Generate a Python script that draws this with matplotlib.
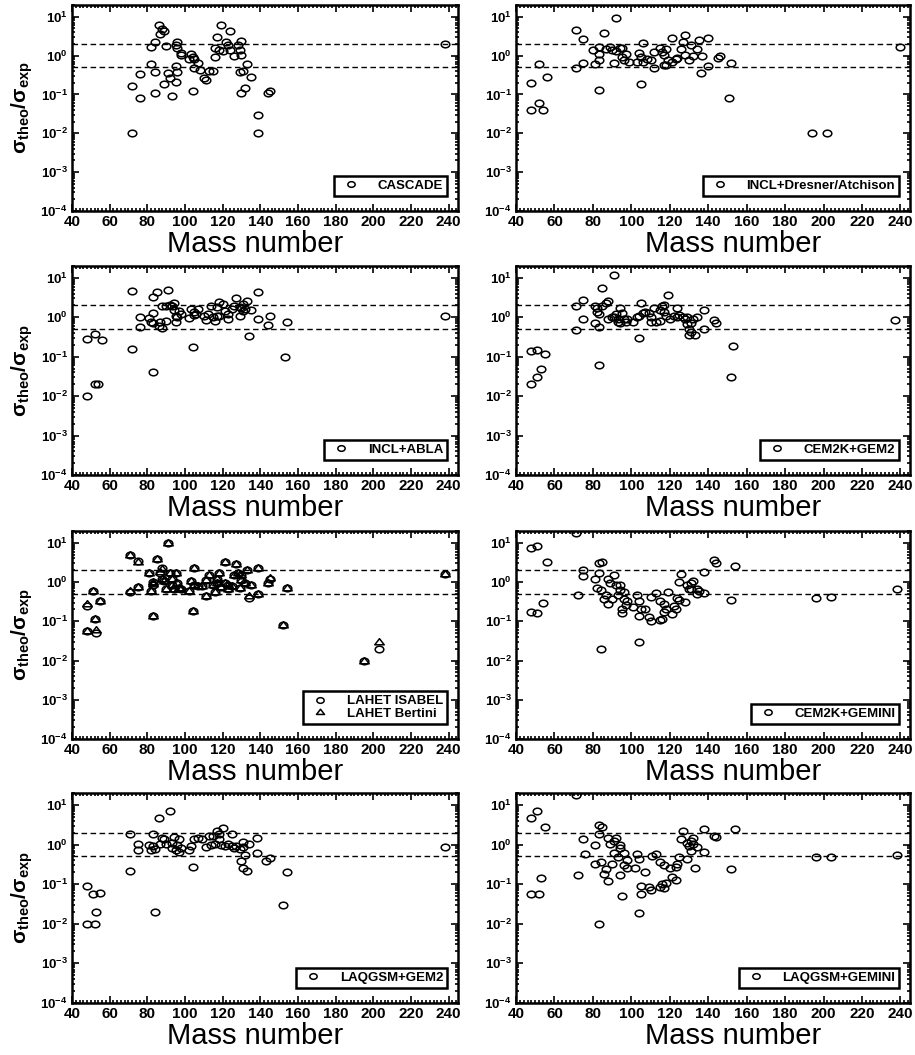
import matplotlib
matplotlib.use('Agg')
import matplotlib.pyplot as plt
from matplotlib.ticker import MultipleLocator, LogLocator, FixedLocator, NullFormatter
from matplotlib.path import Path
from matplotlib.transforms import Affine2D

plt.rcParams['font.family'] = ['Liberation Sans', 'DejaVu Sans']
plt.rcParams['mathtext.fontset'] = 'custom'
plt.rcParams['mathtext.rm'] = 'Liberation Sans'
plt.rcParams['mathtext.it'] = 'Liberation Sans:italic'
plt.rcParams['mathtext.bf'] = 'Liberation Sans:bold'

# ---- data: mass number and sigma_theo/sigma_exp per model ----
cascade_A = [72, 72, 76, 76, 82, 82, 84, 84, 84, 86, 87, 88, 89, 89, 90, 91, 92, 93, 95, 95,
             95, 96, 96, 96, 98, 98, 102, 103, 104, 104, 105, 105, 107, 108, 110, 111, 113, 115,
             116, 116, 117, 118, 119, 120, 122, 123, 124, 124, 126, 128, 129, 130, 130, 129, 130,
             131, 132, 133, 135, 139, 139, 144, 145, 238]
cascade_R = [0.16, 0.01, 0.33, 0.08, 1.7, 0.6, 2.3, 0.38, 0.11, 6.0, 3.5, 4.8, 4.3, 0.18, 1.8, 0.35,
             0.26, 0.09, 0.21, 0.55, 1.9, 1.6, 2.2, 0.37, 1.15, 1.05, 0.8, 1.1, 0.9, 0.12, 0.8, 0.47,
             0.65, 0.43, 0.26, 0.23, 0.4, 0.4, 0.93, 1.6, 3.0, 1.4, 6.2, 1.3, 2.3, 1.85, 4.2, 1.4,
             1.0, 1.9, 1.35, 2.4, 1.05, 0.38, 0.11, 0.4, 0.15, 0.6, 0.28, 0.03, 0.01, 0.11, 0.12, 1.95]

incl_dres_A = [48, 48, 52, 52, 54, 56, 71, 71, 75, 75, 80, 81, 83, 83, 83, 83, 86, 87, 89, 90,
               91, 92, 92, 94, 95, 95, 96, 97, 99, 103, 104, 105, 105, 106, 106, 108, 110, 112,
               112, 115, 116, 117, 117, 118, 118, 119, 121, 121, 123, 124, 126, 127, 128, 128,
               130, 131, 132, 134, 135, 136, 137, 140, 140, 145, 146, 151, 152, 194, 202, 240]
incl_dres_R = [0.2, 0.04, 0.6, 0.06, 0.04, 0.28, 4.6, 0.48, 2.7, 0.63, 1.35, 0.6, 1.7, 1.1, 0.75,
               0.13, 3.8, 1.5, 1.7, 1.4, 0.65, 9.0, 1.3, 1.6, 0.9, 1.55, 0.75, 1.1, 0.7, 0.67, 1.15,
               0.9, 0.18, 2.1, 0.7, 0.84, 0.78, 0.48, 1.2, 1.55, 1.2, 0.57, 1.05, 0.57, 1.5, 0.77,
               2.9, 0.67, 0.8, 0.87, 1.5, 2.2, 3.4, 1.05, 0.78, 1.85, 1.0, 1.5, 2.5, 0.36, 1.0, 2.9,
               0.55, 0.87, 1.0, 0.08, 0.65, 0.01, 0.01, 1.7]

incl_abla_A = [48, 48, 52, 52, 54, 56, 72, 72, 76, 76, 81, 82, 83, 83, 83, 83, 85, 86, 87, 88,
               88, 90, 90, 91, 92, 93, 94, 94, 95, 95, 96, 97, 98, 102, 103, 104, 105, 105, 106,
               107, 110, 111, 112, 114, 115, 116, 117, 117, 118, 118, 120, 121, 123, 123, 125,
               126, 127, 129, 129, 130, 131, 131, 132, 133, 134, 135, 139, 139, 144, 145, 153,
               154, 238]
incl_abla_R = [0.28, 0.01, 0.37, 0.02, 0.02, 0.26, 4.7, 0.16, 1.0, 0.57, 0.98, 0.75, 3.2, 1.3, 0.7,
               0.04, 4.3, 0.6, 0.74, 1.9, 0.52, 0.8, 1.9, 4.9, 2.0, 1.95, 2.25, 1.5, 1.1, 0.75, 1.0,
               1.45, 1.2, 0.97, 1.6, 0.18, 1.35, 1.15, 1.2, 1.6, 1.1, 0.85, 1.2, 1.9, 1.0, 0.8, 1.85,
               1.1, 2.4, 1.1, 2.2, 1.45, 0.9, 1.2, 1.6, 1.9, 3.0, 1.8, 1.1, 1.7, 1.45, 2.2, 1.6, 2.65,
               0.33, 1.5, 4.3, 0.93, 0.63, 1.05, 0.1, 0.74, 1.05]

cem_gem2_A = [48, 48, 51, 51, 53, 55, 71, 71, 75, 75, 81, 81, 82, 82, 83, 83, 83, 85, 85, 87,
              88, 88, 90, 91, 91, 92, 93, 93, 94, 94, 95, 96, 97, 98, 101, 103, 104, 104, 105,
              106, 107, 109, 110, 110, 112, 113, 115, 115, 116, 117, 117, 118, 119, 120, 122,
              124, 124, 125, 127, 128, 129, 129, 130, 131, 130, 131, 132, 133, 134, 138, 138,
              143, 144, 152, 153, 237]
cem_gem2_R = [0.14, 0.02, 0.15, 0.03, 0.05, 0.12, 1.95, 0.48, 2.8, 0.9, 1.95, 0.7, 1.75, 1.35,
              1.2, 0.57, 0.06, 5.4, 1.9, 2.3, 2.6, 0.9, 1.0, 12.0, 1.0, 1.2, 0.75, 0.9, 1.7, 0.7,
              1.25, 0.9, 0.75, 0.9, 0.75, 1.0, 0.3, 1.1, 2.3, 1.25, 1.4, 1.25, 1.0, 0.75, 1.7, 0.75,
              0.8, 1.5, 1.95, 1.35, 2.1, 1.1, 3.7, 0.9, 1.1, 1.7, 1.0, 1.15, 1.0, 0.9, 0.68, 1.0,
              0.5, 0.43, 0.35, 0.7, 0.9, 0.35, 1.0, 1.55, 0.5, 0.85, 0.72, 0.03, 0.19, 0.85]

isabel_A = [48, 48, 51, 52, 53, 55, 71, 71, 75, 75, 81, 82, 83, 83, 83, 85, 87, 88, 88, 89,
            90, 91, 92, 93, 93, 94, 95, 96, 97, 98, 102, 103, 104, 105, 105, 107, 109, 111,
            111, 113, 115, 116, 117, 117, 118, 119, 121, 121, 123, 123, 125, 126, 127, 128,
            129, 130, 130, 132, 133, 134, 135, 139, 139, 144, 145, 152, 154, 195, 203, 238]
isabel_R = [0.24, 0.058, 0.58, 0.115, 0.05, 0.32, 4.8, 0.55, 3.5, 0.73, 1.7, 0.6, 1.0, 0.85,
            0.14, 3.9, 1.7, 2.3, 1.2, 1.05, 0.65, 10.0, 1.7, 0.85, 1.2, 0.65, 1.7, 0.96, 0.72,
            0.65, 0.6, 1.05, 0.18, 2.3, 0.85, 0.78, 0.78, 0.45, 1.1, 1.5, 0.82, 0.55, 1.2, 0.96,
            1.7, 0.73, 3.2, 0.96, 0.65, 0.85, 0.78, 1.55, 2.9, 1.7, 0.72, 1.1, 1.55, 0.96, 2.0,
            0.4, 0.85, 2.3, 0.5, 0.96, 1.2, 0.08, 0.7, 0.01, 0.02, 1.6]
bertini_A = [48, 48, 51, 52, 53, 55, 71, 71, 75, 75, 81, 82, 83, 83, 83, 85, 87, 88, 88, 89,
             90, 91, 92, 93, 93, 94, 95, 96, 97, 98, 102, 103, 104, 105, 105, 107, 109, 111,
             111, 113, 115, 116, 117, 117, 118, 119, 121, 121, 123, 123, 125, 126, 127, 128,
             129, 130, 130, 132, 133, 134, 135, 139, 139, 144, 145, 152, 154, 195, 203, 238]
bertini_R = [0.27, 0.058, 0.6, 0.115, 0.06, 0.32, 4.8, 0.58, 3.3, 0.73, 1.7, 0.6, 1.0, 0.9,
             0.14, 3.9, 1.8, 2.1, 1.2, 1.05, 0.65, 10.0, 1.7, 0.85, 1.2, 0.65, 1.7, 0.96, 0.72,
             0.65, 0.6, 1.05, 0.18, 2.3, 0.85, 0.78, 0.78, 0.45, 1.1, 1.5, 0.82, 0.55, 1.2, 0.96,
             1.7, 0.73, 3.2, 0.96, 0.65, 0.85, 0.78, 1.55, 2.9, 1.7, 0.72, 1.1, 1.55, 0.96, 2.0,
             0.45, 0.85, 2.3, 0.5, 0.96, 1.3, 0.08, 0.7, 0.01, 0.029, 1.6]

cem_gemini_A = [48, 48, 51, 51, 54, 56, 71, 72, 75, 75, 81, 82, 83, 83, 84, 84, 85, 86, 87, 88,
                88, 89, 90, 91, 92, 93, 94, 94, 95, 95, 96, 96, 97, 98, 101, 103, 104, 104, 104,
                105, 107, 109, 110, 110, 113, 115, 115, 116, 117, 117, 118, 119, 121, 122, 123,
                124, 125, 125, 126, 128, 129, 130, 131, 131, 132, 134, 134, 135, 138, 138, 143,
                144, 152, 154, 196, 204, 238]
cem_gemini_R = [7.2, 0.17, 8.3, 0.16, 0.3, 3.3, 18.0, 0.46, 2.0, 1.4, 1.2, 0.72, 3.1, 1.7, 0.63,
                0.02, 3.3, 0.37, 0.46, 1.2, 0.27, 0.95, 0.38, 1.5, 0.85, 0.46, 0.86, 0.64, 0.2,
                0.165, 0.56, 0.37, 0.26, 0.33, 0.23, 0.48, 0.33, 0.03, 0.14, 0.2, 0.21, 0.13, 0.1,
                0.42, 0.52, 0.11, 0.32, 0.115, 0.27, 0.17, 0.2, 0.56, 0.15, 0.25, 0.2, 0.39, 0.34,
                1.0, 1.6, 0.31, 0.82, 0.66, 0.96, 0.68, 1.06, 0.66, 0.49, 0.6, 1.8, 0.53, 3.7, 3.1,
                0.34, 2.6, 0.39, 0.42, 0.65]

laq_gem2_A = [48, 48, 51, 52, 53, 55, 71, 71, 75, 75, 81, 82, 83, 83, 84, 84, 86, 87, 88, 89,
              90, 92, 93, 93, 94, 95, 96, 97, 97, 98, 102, 103, 104, 105, 107, 109, 111, 113,
              114, 115, 116, 117, 118, 118, 119, 120, 121, 123, 125, 125, 126, 127, 129, 130,
              131, 131, 131, 132, 133, 134, 138, 138, 143, 145, 152, 154, 238]
laq_gem2_R = [0.09, 0.01, 0.058, 0.01, 0.02, 0.06, 0.22, 1.8, 1.05, 0.72, 1.0, 0.72, 1.85, 0.9,
              0.75, 0.02, 4.7, 1.05, 1.45, 1.35, 1.03, 7.2, 0.82, 1.1, 1.55, 0.72, 1.0, 1.35, 0.63,
              0.82, 0.72, 0.9, 0.27, 1.4, 1.5, 1.35, 0.85, 1.6, 0.95, 1.6, 1.05, 2.2, 1.8, 1.4, 1.0,
              2.6, 0.9, 1.05, 0.9, 1.8, 0.82, 0.9, 0.78, 0.38, 1.15, 0.86, 0.25, 0.53, 0.22, 1.05,
              1.45, 0.62, 0.38, 0.45, 0.03, 0.2, 0.85]

laq_gemini_A = [48, 48, 51, 52, 53, 55, 71, 72, 75, 76, 81, 81, 83, 83, 84, 83, 85, 86, 87, 88,
                88, 89, 90, 91, 91, 92, 93, 94, 94, 94, 95, 96, 96, 98, 98, 102, 103, 104, 104,
                105, 105, 107, 109, 110, 111, 113, 115, 115, 116, 117, 117, 118, 120, 121, 123,
                123, 124, 125, 126, 127, 129, 129, 130, 131, 131, 132, 132, 134, 133, 138, 138,
                143, 144, 152, 154, 196, 204, 238]
laq_gemini_R = [4.8, 0.058, 7.0, 0.058, 0.14, 2.7, 18.0, 0.17, 1.35, 0.58, 0.95, 0.33, 3.2, 1.85,
                0.37, 0.01, 2.7, 0.18, 0.24, 1.45, 0.12, 1.05, 0.33, 1.25, 0.62, 1.45, 0.48, 1.0,
                0.83, 0.17, 0.05, 0.3, 0.62, 0.25, 0.4, 0.26, 0.58, 0.43, 0.019, 0.055, 0.09, 0.2,
                0.083, 0.07, 0.5, 0.58, 0.083, 0.37, 0.1, 0.3, 0.08, 0.105, 0.26, 0.15, 0.27, 0.13,
                0.33, 0.48, 1.4, 2.2, 0.44, 1.1, 0.9, 1.2, 0.68, 1.05, 1.45, 0.86, 0.25, 2.4, 0.65,
                1.6, 1.55, 0.24, 2.4, 0.48, 0.48, 0.53]

panels = [
    [(cascade_A, cascade_R, 'o', 'CASCADE')],
    [(incl_dres_A, incl_dres_R, 'o', 'INCL+Dresner/Atchison')],
    [(incl_abla_A, incl_abla_R, 'o', 'INCL+ABLA')],
    [(cem_gem2_A, cem_gem2_R, 'o', 'CEM2K+GEM2')],
    [(isabel_A, isabel_R, 'o', 'LAHET ISABEL'), (bertini_A, bertini_R, '^', 'LAHET Bertini')],
    [(cem_gemini_A, cem_gemini_R, 'o', 'CEM2K+GEMINI')],
    [(laq_gem2_A, laq_gem2_R, 'o', 'LAQGSM+GEM2')],
    [(laq_gemini_A, laq_gemini_R, 'o', 'LAQGSM+GEMINI')],
]

# the scanned figure is a bit wider than tall, so markers are slightly squashed ellipses
squash = Affine2D().scale(1.3, 1.0)
ellipse = squash.transform_path(Path.unit_circle())
tri = squash.transform_path(Path([(0, 1), (-0.95, -0.6), (0.95, -0.6), (0, 1)], closed=True))
marker_paths = {'o': ellipse, '^': tri}

W, H = 915, 1055
fig = plt.figure(figsize=(W / 100, H / 100), dpi=100)

# axes boxes in pixels: (left, right) per column, (top, bottom) per row
cols = [(72, 458), (516, 910)]
rows = [(5, 211), (266, 475), (531, 739), (793, 1003)]
xlabel_x = [0.474, 0.55]   # the x label is not centred under the axes in the scan

ytick_vals = [1e-4, 1e-3, 1e-2, 1e-1, 1e0, 1e1]
ytick_labels = [r'$\mathbf{10^{-4}}$', r'$\mathbf{10^{-3}}$', r'$\mathbf{10^{-2}}$',
                r'$\mathbf{10^{-1}}$', r'$\mathbf{10^{0}}$', r'$\mathbf{10^{1}}$']

for i, series in enumerate(panels):
    r, c = divmod(i, 2)
    l, rr = cols[c]
    t, b = rows[r]
    aw, ah = rr - l, b - t
    ax = fig.add_axes([l / W, 1 - b / H, aw / W, ah / H])
    for A, R, m, lab in series:
        ax.plot(A, R, linestyle='none', marker=marker_paths[m], ms=6.2 if m == 'o' else 6.8,
                mfc='none', mec='black', mew=1.1, label=lab)
    ax.axhline(2.0, color='black', ls=(0, (4, 2.5)), lw=1.0)
    ax.axhline(0.5, color='black', ls=(0, (4, 2.5)), lw=1.0)
    ax.set_yscale('log')
    ax.set_xlim(40, 245)
    ax.set_ylim(1e-4, 20)
    ax.xaxis.set_major_locator(MultipleLocator(20))
    ax.xaxis.set_minor_locator(MultipleLocator(2))
    ax.yaxis.set_major_locator(FixedLocator(ytick_vals))
    ax.set_yticklabels(ytick_labels)
    ax.yaxis.set_minor_locator(LogLocator(base=10, subs=range(2, 10), numticks=20))
    ax.yaxis.set_minor_formatter(NullFormatter())
    ax.tick_params(which='both', direction='in', top=True, right=True, width=1.2)
    ax.tick_params(which='major', length=5)
    ax.tick_params(which='minor', length=2.5)
    ax.tick_params(axis='x', which='major', labelsize=11, pad=3)
    ax.tick_params(axis='y', which='major', labelsize=9.5, pad=3)
    for lbl in ax.get_xticklabels():
        lbl.set_fontweight('bold')
    for s in ax.spines.values():
        s.set_linewidth(1.8)
    ax.set_xlabel('Mass number', fontsize=21)
    ax.xaxis.set_label_coords(xlabel_x[c], -19 / ah)
    if c == 0:
        ax.set_ylabel(r'$\mathbf{\sigma_{theo}/\sigma_{exp}}$', fontsize=15, labelpad=4)
    leg = ax.legend(loc='lower right', bbox_to_anchor=(1 - 11 / aw, 15 / ah),
                    borderaxespad=0, prop={'weight': 'bold', 'size': 9.5},
                    frameon=True, fancybox=False, edgecolor='black', framealpha=1,
                    handlelength=2.0, handletextpad=1.0, borderpad=0.3,
                    labelspacing=0.05, markerscale=0.85)
    leg.get_frame().set_linewidth(1.8)

fig.savefig('out.png', dpi=100)
